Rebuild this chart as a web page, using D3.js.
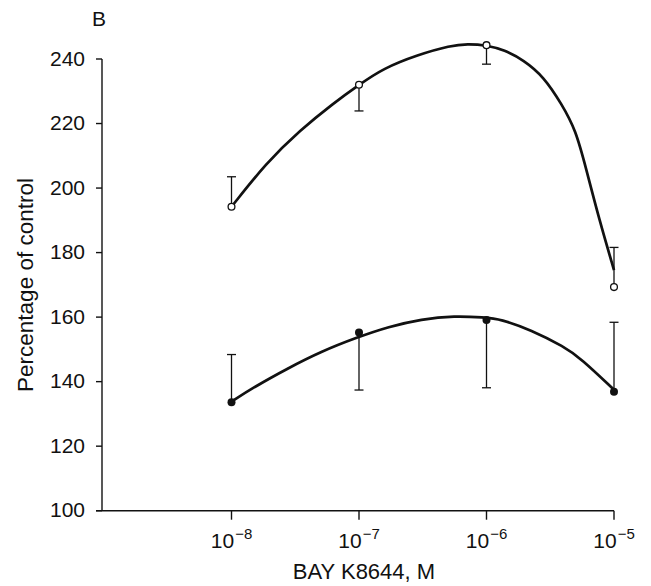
<!DOCTYPE html>
<html>
<head>
<meta charset="utf-8">
<script src="https://cdn.jsdelivr.net/npm/d3@7"></script>
<style>
  html, body { margin: 0; padding: 0; background: #fff; }
  svg { display: block; font-family: "Liberation Sans", Arial, Helvetica, sans-serif; }
</style>
</head>
<body>
<svg id="chart" width="651" height="586"></svg>
<script>
// ---- data ----
const concentrations = [1e-8, 1e-7, 1e-6, 1e-5];          // BAY K8644, M
const xTickExponents = [-8, -7, -6, -5];
const yTicks = [100, 120, 140, 160, 180, 200, 220, 240];

// open circles (upper series)
const openMean   = [194.2, 232.0, 244.3, 169.3];
const openBarEnd = [203.5, 223.9, 238.4, 181.6];
// filled circles (lower series)
const filledMean   = [133.6, 155.2, 159.1, 136.9];
const filledBarEnd = [148.4, 137.4, 138.1, 158.4];

// hand-drawn fitted curves: log10(conc) and value
const openFitLog = [-8.0, -7.73, -7.46, -7.20, -7.0, -6.81, -6.54, -6.28, -6.15, -6.0, -5.86, -5.71, -5.55, -5.41, -5.30, -5.22, -5.115, -5.0];
const openFitVal = [194.2, 207.7, 218.0, 226.3, 232.0, 237.1, 241.3, 244.2, 244.7, 244.3, 242.8, 239.7, 234.5, 226.0, 218.0, 206.2, 190.1, 174.6];
const filledFitLog = [-8.0, -7.82, -7.56, -7.30, -7.01, -6.77, -6.51, -6.25, -6.02, -5.89, -5.65, -5.39, -5.26, -5.0];
const filledFitVal = [133.8, 138.4, 144.1, 149.3, 153.8, 157.0, 159.4, 160.4, 159.9, 159.4, 156.0, 150.8, 147.2, 137.5];

// ---- layout ----
const svg = d3.select("#chart");
svg.append("rect").attr("width", 651).attr("height", 586).attr("fill", "#fff");

const x = d3.scaleLog().domain([1e-9, 1e-5]).range([104, 614]);
const y = d3.scaleLinear().domain([100, 240]).range([510.7, 59]);
const axisX0 = 102;

const ink = "#111";

// y axis
svg.append("line")
  .attr("x1", axisX0).attr("x2", axisX0)
  .attr("y1", y(240)).attr("y2", y(100))
  .attr("stroke", ink).attr("stroke-width", 1.4);
const yAxisG = svg.append("g");
yTicks.forEach(t => {
  yAxisG.append("line")
    .attr("x1", axisX0 - 6).attr("x2", axisX0)
    .attr("y1", y(t)).attr("y2", y(t))
    .attr("stroke", ink).attr("stroke-width", 1.4);
  yAxisG.append("text")
    .attr("x", 85).attr("y", y(t) + 6.5)
    .attr("text-anchor", "end")
    .attr("font-size", 21)
    .attr("fill", ink)
    .text(t);
});

// x axis
svg.append("line")
  .attr("x1", axisX0 - 6).attr("x2", x(1e-5))
  .attr("y1", y(100)).attr("y2", y(100))
  .attr("stroke", ink).attr("stroke-width", 1.4);
const xAxisG = svg.append("g");
concentrations.forEach((c, i) => {
  xAxisG.append("line")
    .attr("x1", x(c)).attr("x2", x(c))
    .attr("y1", y(100)).attr("y2", y(100) + 9)
    .attr("stroke", ink).attr("stroke-width", 1.4);
  const t = xAxisG.append("text")
    .attr("x", x(c)).attr("y", 548)
    .attr("text-anchor", "middle")
    .attr("font-size", 21)
    .attr("fill", ink);
  t.append("tspan").text("10");
  t.append("tspan").attr("dy", -9).attr("font-size", 15).attr("dx", 1).text("\u2212" + Math.abs(xTickExponents[i]));
});

// axis titles
svg.append("text")
  .attr("x", 364).attr("y", 579)
  .attr("text-anchor", "middle")
  .attr("font-size", 22)
  .attr("fill", ink)
  .text("BAY K8644, M");
svg.append("text")
  .attr("transform", "translate(33,285) rotate(-90)")
  .attr("text-anchor", "middle")
  .attr("font-size", 22.5)
  .attr("fill", ink)
  .text("Percentage of control");

// panel letter
svg.append("text")
  .attr("x", 92).attr("y", 26)
  .attr("font-size", 21)
  .attr("fill", ink)
  .text("B");

// fitted curves
const line = d3.line()
  .x(d => x(Math.pow(10, d[0])))
  .y(d => y(d[1]))
  .curve(d3.curveBasis);

svg.append("path")
  .attr("d", line(openFitLog.map((l, i) => [l, openFitVal[i]])))
  .attr("fill", "none").attr("stroke", ink).attr("stroke-width", 2.7)
  .attr("stroke-linejoin", "round");
svg.append("path")
  .attr("d", line(filledFitLog.map((l, i) => [l, filledFitVal[i]])))
  .attr("fill", "none").attr("stroke", ink).attr("stroke-width", 2.7)
  .attr("stroke-linejoin", "round");

// error bars
function errorBars(means, ends) {
  const g = svg.append("g");
  concentrations.forEach((c, i) => {
    g.append("line")
      .attr("x1", x(c)).attr("x2", x(c))
      .attr("y1", y(means[i])).attr("y2", y(ends[i]))
      .attr("stroke", ink).attr("stroke-width", 1.3);
    g.append("line")
      .attr("x1", x(c) - 4.5).attr("x2", x(c) + 4.5)
      .attr("y1", y(ends[i])).attr("y2", y(ends[i]))
      .attr("stroke", ink).attr("stroke-width", 1.3);
  });
}
errorBars(openMean, openBarEnd);
errorBars(filledMean, filledBarEnd);

// points
svg.append("g").selectAll("circle")
  .data(concentrations)
  .join("circle")
  .attr("cx", d => x(d))
  .attr("cy", (d, i) => y(openMean[i]))
  .attr("r", 3.4)
  .attr("fill", "#fff")
  .attr("stroke", ink).attr("stroke-width", 1.3);
svg.append("g").selectAll("circle")
  .data(concentrations)
  .join("circle")
  .attr("cx", d => x(d))
  .attr("cy", (d, i) => y(filledMean[i]))
  .attr("r", 4)
  .attr("fill", ink);
</script>
</body>
</html>
